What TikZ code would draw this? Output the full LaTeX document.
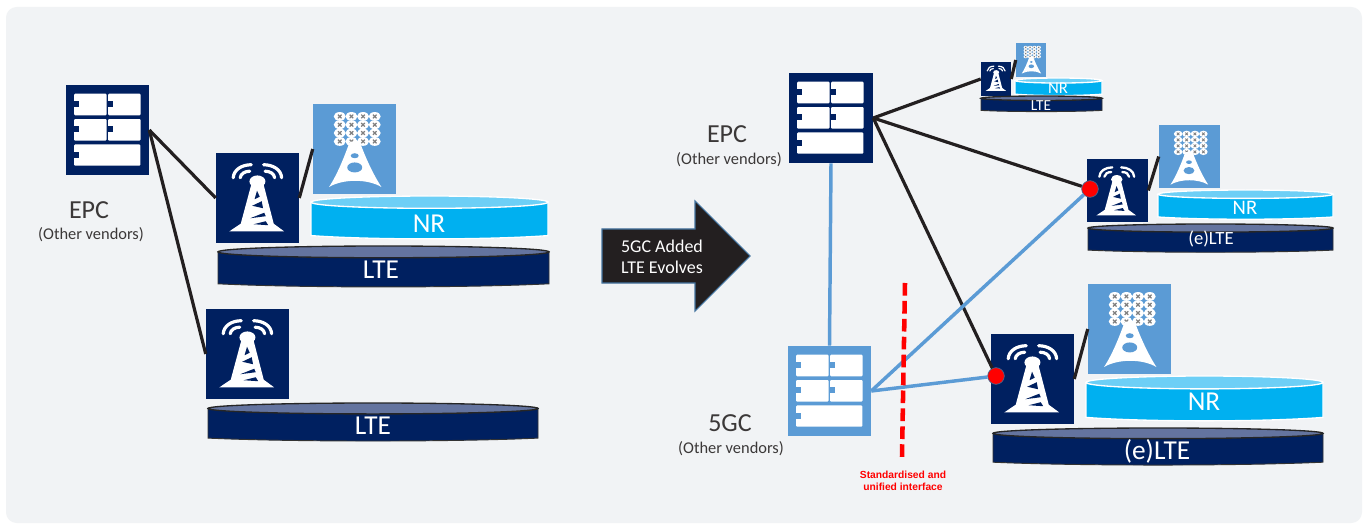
\documentclass[tikz,border=0pt]{standalone}
\usepackage{fontspec}
\setmainfont{Carlito}
\newfontfamily\redfont{Liberation Sans}
\definecolor{navy}{HTML}{002060}
\definecolor{skyblue}{HTML}{5B9BD5}
\definecolor{nrblue}{HTML}{00B0F0}
\definecolor{nrtopblue}{HTML}{6DCFF6}
\definecolor{ltetopblue}{HTML}{64749F}
\definecolor{panel}{HTML}{F1F3F5}
\definecolor{darktext}{HTML}{3B3838}
\definecolor{arrowblack}{HTML}{231F20}
\definecolor{linkblack}{HTML}{231F20}

\tikzstyle{navybox}=[draw=none, fill=navy, inner sep=0pt]
\tikzstyle{skybox}=[draw=none, fill=skyblue, inner sep=0pt]
\tikzstyle{redspot}=[circle, fill=red, draw=skyblue!70!black, line width=0.5pt, inner sep=0pt, minimum size=12.5pt]
\tikzstyle{blacklink}=[draw=linkblack, line width=2.4pt]
\tikzstyle{bluelink}=[draw=skyblue, line width=2.6pt]
\tikzstyle{ltebody}=[fill=navy, draw=black!80, line width=0.7pt]
\tikzstyle{ltetop}=[fill=ltetopblue, draw=black!85, line width=1pt]
\tikzstyle{nrbody}=[fill=nrblue, draw=white, line width=1pt]
\tikzstyle{nrtop}=[fill=nrtopblue, draw=white, line width=1pt]
\tikzstyle{bigtxt}=[white, font=\fontsize{20.5}{24}\selectfont]
\tikzstyle{corelabel}=[darktext, font=\fontsize{19.5}{23}\selectfont]
\tikzstyle{vendorlabel}=[darktext, font=\fontsize{12.3}{15}\selectfont]

% body+top of a flat cylinder: kind, x1, y1, x2, y2
\newcommand{\flatdisc}[5]{
  \pgfmathsetmacro{\rimh}{(#5-#3)*0.14}
  \pgfmathsetmacro{\rimw}{(#4-#2)/2}
  \pgfmathsetmacro{\midx}{(#4+#2)/2}
  \pgfmathsetmacro{\midy}{#3+\rimh}
  \pgfmathsetmacro{\sagy}{#5-(#5-#3)*0.1}
  \path[#1body] (#2,\midy) -- (#2,\sagy) .. controls (#2+\rimw*0.5,#5) and (#4-\rimw*0.5,#5) .. (#4,\sagy) -- (#4,\midy) -- cycle;
  \path[#1top] (\midx,\midy) ellipse [x radius=\rimw, y radius=\rimh];
}

\tikzset{
  pics/server/.style={code={
    \begin{scope}[scale=#1]
      \foreach \ry in {9,34.3}{\foreach \rx in {8.3,42.3}{
        \fill[white,rounded corners=0.8pt] (\rx,\ry) rectangle (\rx+32.6,\ry+21.6);
      }}
      \fill[white,rounded corners=0.8pt] (8.3,59.7) rectangle (74.7,81);
      \foreach \rx in {8.3,42.3}{\foreach \ry in {16.5,41.5}{
        \fill[pic actions] (\rx,\ry) rectangle (\rx+5,\ry+5.6);
      }}
      \fill[pic actions] (8.3,67.2) rectangle (13.3,72.8);
    \end{scope}
  }},
  pics/tower/.style={code={
    \begin{scope}[scale=#1,line width=#1*2.4pt,line cap=round]
      \draw[white] (17.5,25) .. controls (18,17) and (26,12) .. (35.5,12);
      \draw[white] (24.5,25) .. controls (25,21) and (29,18.5) .. (34,18.5);
      \draw[white] (65.9,25) .. controls (65.4,17) and (57.4,12) .. (47.9,12);
      \draw[white] (58.9,25) .. controls (58.4,21) and (54.4,18.5) .. (49.4,18.5);
      \fill[white] (41.7,28.7) ellipse [x radius=8, y radius=6];
      \fill[white] (35.5,32) -- (47.9,32) -- (58,71) -- (68.5,78.7) -- (13.5,78.7) -- (25,71) -- cycle;
      \fill[navy] (41.3,38) -- (38.8,46.5) -- (44,44) -- cycle;
      \fill[navy] (46,48.5) -- (36.5,53) -- (47.3,55.5) -- cycle;
      \fill[navy] (48.5,60) -- (34.5,65.5) -- (50,63.5) -- cycle;
      \fill[navy] (50,68.5) -- (38,71.5) -- (52.5,72.5) -- cycle;
    \end{scope}
  }},
  pics/mast/.style={code={
    \begin{scope}[scale=#1,line width=#1*0.9pt]
      \foreach \rx in {27,38.7,50.3,62}{\foreach \ry in {12.7,21,29.3,37.7}{
        \fill[white] (\rx,\ry) ellipse [x radius=6, y radius=4.4];
        \draw[gray] (\rx-1.8,\ry-1.8) -- (\rx+1.8,\ry+1.8) (\rx-1.8,\ry+1.8) -- (\rx+1.8,\ry-1.8);
      }}
      \fill[white] (37,38) .. controls (32,52) and (25,70) .. (16.3,83.3) .. controls (30,75) and (55,75) .. (68.7,83.3) .. controls (60,70) and (52,52) .. (47,38) -- cycle;
      \fill[skyblue] (42,52) ellipse [x radius=4, y radius=2.5];
      \fill[skyblue] (42,63.7) ellipse [x radius=7.5, y radius=5];
    \end{scope}
  }}
}

\begin{document}
\begin{tikzpicture}[x=0.75pt,y=-0.75pt]

\useasboundingbox (0,0) rectangle (1368,524);
\fill[white] (0,0) rectangle (1368,524);
\fill[panel,rounded corners=8pt] (6,7) rectangle (1362,523);

% left side
\node[navybox,minimum width=62.25pt,minimum height=67.5pt] (epcL) at (107.5,130) {};
\pic[pic actions/.style={fill=navy}] at (epcL.north west) {server=1};
\node[navybox,minimum width=62.25pt,minimum height=67.5pt] (towerA) at (257.5,198) {};
\pic at (towerA.north west) {tower=1};
\node[skybox,minimum width=62.25pt,minimum height=67.5pt] (mastA) at (354.5,149) {};
\pic at (mastA.north west) {mast=1};
\node[navybox,minimum width=62.25pt,minimum height=67.5pt] (towerB) at (247.5,354) {};
\pic at (towerB.north west) {tower=1};

\flatdisc{nr}{311}{196}{548}{240}
\flatdisc{lte}{218}{246}{549}{288}
\flatdisc{lte}{208}{403}{538}{442}

\node[bigtxt] (nrA) at (429,224) {NR};
\node[bigtxt] (lteA) at (381,270) {LTE};
\node[bigtxt] (lteB) at (373,426) {LTE};

\node[corelabel] (epcLtxt) at (89,210) {EPC};
\node[vendorlabel] (epcLsub) at (91,235) {(Other vendors)};

\draw[blacklink] (epcL.east) -- (towerA.west);
\draw[blacklink] (epcL.east) -- (towerB.west);
\draw[blacklink] (towerA.east) -- (mastA.west);

% arrow
\filldraw[fill=arrowblack,draw=skyblue!75!black,line width=0.8pt] (602,229) -- (695,229) -- (695,201) -- (750,256) -- (695,311) -- (695,283) -- (602,283) -- cycle;
\node[white,align=center,font=\fontsize{13.5}{16}\selectfont] (evolve) at (662,257) {5GC Added\\LTE Evolves};

% right side
\node[navybox,minimum width=63pt,minimum height=67.5pt] (epcR) at (831,118) {};
\pic[pic actions/.style={fill=navy}] at (epcR.north west) {server=1};
\node[skybox,minimum width=62.25pt,minimum height=67.5pt] (fiveg) at (829.5,391) {};
\pic[pic actions/.style={fill=skyblue}] at (fiveg.north west) {server=1};

\node[navybox,minimum width=22.5pt,minimum height=25.5pt] (towerS) at (996,79) {};
\pic at (towerS.north west) {tower=0.37};
\node[skybox,minimum width=22.5pt,minimum height=25.5pt] (mastS) at (1031,60) {};
\pic at (mastS.north west) {mast=0.37};
\node[navybox,minimum width=45.75pt,minimum height=47.25pt] (towerM) at (1117.5,190.5) {};
\pic at (towerM.north west) {tower=0.72};
\node[skybox,minimum width=45.75pt,minimum height=47.25pt] (mastM) at (1189.5,156.5) {};
\pic at (mastM.north west) {mast=0.72};
\node[navybox,minimum width=62.25pt,minimum height=67.5pt] (towerL) at (1032.5,379) {};
\pic at (towerL.north west) {tower=1};
\node[skybox,minimum width=62.25pt,minimum height=67.5pt] (mastL) at (1129.5,329) {};
\pic at (mastL.north west) {mast=1};

\flatdisc{nr}{1015}{78}{1102}{96}
\flatdisc{lte}{981}{96}{1102}{112}
\flatdisc{nr}{1158}{190}{1333}{220}
\flatdisc{lte}{1088}{224}{1333}{253}
\flatdisc{nr}{1086}{376}{1323}{422}
\flatdisc{lte}{993}{428}{1323}{466}

\node[white,font=\fontsize{12.5}{15}\selectfont] (nrS) at (1058,88) {NR};
\node[white,font=\fontsize{11.5}{14}\selectfont] (lteS) at (1041,106) {LTE};
\node[white,font=\fontsize{15.5}{18}\selectfont] (nrM) at (1245,208) {NR};
\node[white,font=\fontsize{14}{17}\selectfont] (lteM) at (1211,239) {(e)LTE};
\node[bigtxt] (nrL) at (1204,402) {NR};
\node[bigtxt] (lteL) at (1157,451) {(e)LTE};

\node[corelabel] (epcRtxt) at (727,134) {EPC};
\node[vendorlabel] (epcRsub) at (729,160) {(Other vendors)};
\node[corelabel] (fivegtxt) at (730,423) {5GC};
\node[vendorlabel] (fivegsub) at (731,449) {(Other vendors)};

\node[redspot] (spotM) at (1090,189) {};
\node[redspot] (spotL) at (996,376) {};

\draw[blacklink] (epcR.east) -- (towerS.west);
\draw[blacklink] (epcR.east) -- (spotM);
\draw[blacklink] (epcR.east) -- (spotL);
\draw[blacklink] (towerS.east) -- (mastS.west);
\draw[blacklink] (towerM.east) -- (mastM.west);
\draw[blacklink] (towerL.east) -- (mastL.west);
\draw[bluelink] (epcR.south) -- (fiveg.north);
\draw[bluelink] (fiveg.east) -- (spotM);
\draw[bluelink] (fiveg.east) -- (spotL);

% interface
\coordinate (ifaceTop) at (905,283);
\coordinate (ifaceEnd) at (902,457);
\draw[red,line width=3.4pt,dash pattern=on 9.5pt off 3.94pt] (ifaceTop) -- (ifaceEnd);
\node[red,align=center,font=\redfont\bfseries\fontsize{7.7}{9}\selectfont] (ifacetxt) at (903,481) {Standardised and\\unified interface};

\end{tikzpicture}
\end{document}
